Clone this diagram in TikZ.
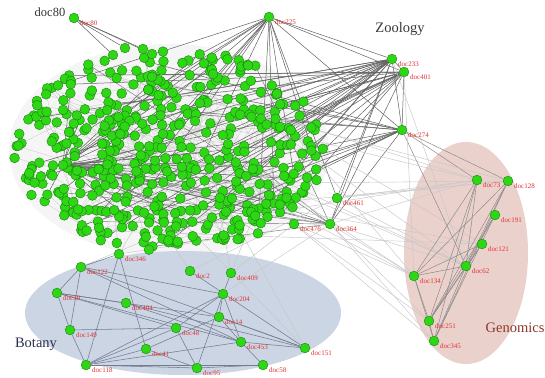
\documentclass[tikz,border=0pt]{standalone}
\usepackage{fontspec}
\setmainfont{Liberation Serif}
\pgfdeclarelayer{bg}
\pgfdeclarelayer{edges}
\pgfsetlayers{bg,edges,main}
\definecolor{gfill}{RGB}{45,215,20}
\definecolor{gline}{RGB}{30,125,20}
\definecolor{docred}{RGB}{225,50,50}
\definecolor{botfill}{RGB}{204,213,227}
\definecolor{genfill}{RGB}{235,209,204}
\definecolor{botname}{RGB}{40,50,80}
\definecolor{genname}{RGB}{140,55,45}
\definecolor{botedge}{RGB}{115,125,145}
\tikzset{
  gnode/.style={circle, fill=gfill, draw=gline, line width=0.4pt, inner sep=0pt, minimum size=9.8pt},
  doclab/.style={text=docred, font=\fontsize{7}{7}\selectfont, inner sep=0pt, anchor=west},
  grp/.style={font=\fontsize{14.5}{14.5}\selectfont, inner sep=0pt},
  zedge/.style={draw=black!62, line width=0.5pt},
  hedge/.style={draw=black!55, line width=0.45pt},
  cedge/.style={draw=black!22, line width=0.3pt},
  bedge/.style={draw=botedge, line width=0.55pt},
  gedge/.style={draw=black!45, line width=0.5pt},
  ledge/.style={draw=black!22, line width=0.45pt}
}
\newcommand{\dnode}[3]{\node[gnode] (#1) at (#2,#3) {}; \node[doclab] (#1-l) at (#2+6,#3+5.5) {#1};}
\begin{document}
\begin{tikzpicture}[x=1pt,y=-1pt]
\useasboundingbox (0,0) rectangle (545,377);
\begin{pgfonlayer}{bg}
  \fill[white] (0,0) rectangle (545,377);
  \fill[black!4] (169,150) ellipse [x radius=160, y radius=106];
  \fill[botfill] (183,313) ellipse [x radius=158, y radius=62];
  \fill[genfill] (466,253) ellipse [x radius=62, y radius=111];
\end{pgfonlayer}
% cluster nodes
\pgfmathsetseed{7}
\foreach \i in {1,...,470}{
  \pgfmathsetmacro\angg{360*rnd}
  \pgfmathsetmacro\rrr{sqrt(rnd)}
  \pgfmathsetmacro\cxx{170+156*\rrr*cos(\angg)}
  \pgfmathsetmacro\cyy{150+101*\rrr*sin(\angg)}
  \node[gnode] (g\i) at (\cxx,\cyy) {};
}
\node[gnode] (hub) at (63,165) {};
\node[gnode] (top1) at (125,48) {};
\node[gnode] (top2) at (143,49) {};
\node[gnode] (top3) at (113,55) {};
\node[gnode] (top4) at (152,54) {};
% named documents
\dnode{doc80}{74}{18}
\dnode{doc225}{269}{17}
\dnode{doc233}{392}{59}
\dnode{doc401}{404}{72}
\dnode{doc274}{402}{130}
\dnode{doc461}{337}{198}
\dnode{doc364}{330}{224}
\dnode{doc476}{294}{224}
\dnode{doc73}{477}{180}
\dnode{doc128}{508}{181}
\dnode{doc191}{495}{215}
\dnode{doc121}{482}{244}
\dnode{doc62}{466}{266}
\dnode{doc134}{414}{276}
\dnode{doc251}{429}{321}
\dnode{doc345}{434}{341}
\dnode{doc346}{119}{254}
\dnode{doc122}{81}{267}
\dnode{doc30}{57}{293}
\dnode{doc404}{126}{303}
\dnode{doc149}{70}{330}
\dnode{doc118}{86}{365}
\dnode{doc41}{146}{349}
\dnode{doc48}{176}{328}
\dnode{doc95}{197}{368}
\dnode{doc2}{190}{271}
\dnode{doc409}{231}{273}
\dnode{doc204}{223}{294}
\dnode{doc14}{219}{317}
\dnode{doc453}{241}{342}
\dnode{doc151}{305}{348}
\dnode{doc58}{263}{365}
% titles
\node[font=\fontsize{12.5}{12.5}\selectfont, text=black!80, inner sep=0pt] (doc80title) at (50,12) {doc80};
\node[grp, text=black!78] (zoolab) at (400,29) {Zoology};
\node[grp, text=botname] (botlab) at (36,344) {Botany};
\node[grp, text=genname] (genlab) at (515,328) {Genomics};
% edges
\begin{pgfonlayer}{edges}
  \pgfmathsetseed{31}
  \foreach \k in {1,...,150}{
    \pgfmathrandominteger{\ea}{1}{470}
    \pgfmathrandominteger{\eb}{1}{470}
    \draw[cedge] (g\ea) -- (g\eb);
  }
  \foreach \s/\n in {hub/32, doc233/18, doc401/16, doc274/12, doc225/14}{
    \foreach \k in {1,...,\n}{
      \pgfmathrandominteger{\ea}{1}{470}
      \draw[zedge] (\s) -- (g\ea);
    }
  }
  \foreach \t in {top1,top2,top3,top4} \draw[zedge] (doc80) -- (\t);
  \foreach \a/\b in {doc225/doc233, doc225/doc401, doc225/doc274, doc233/doc401, doc233/doc274,
      doc401/doc274, doc225/doc461, doc233/doc364, doc401/doc364, doc233/doc461, doc274/doc364}
    \draw[zedge] (\a) -- (\b);
  \foreach \k in {1,...,10}{
    \pgfmathrandominteger{\ea}{1}{470}
    \draw[hedge] (doc364) -- (g\ea);
  }
  % to genomics
  \foreach \a/\b in {doc274/doc73, doc274/doc128, doc274/doc62}
    \draw[gedge] (\a) -- (\b);
  \foreach \a/\b in {doc364/doc134, doc364/doc62, doc364/doc251, doc364/doc345, doc364/doc73,
      doc461/doc128, doc461/doc73, doc461/doc62, doc476/doc251, doc476/doc345, doc476/doc134,
      doc476/doc409, doc364/doc204, doc461/doc2, doc233/doc62, doc401/doc134}
    \draw[ledge] (\a) -- (\b);
  \foreach \t in {doc73,doc134,doc62,doc121,doc128}{
    \foreach \k in {1,2,3}{
      \pgfmathrandominteger{\ea}{1}{470}
      \draw[ledge] (g\ea) -- (\t);
    }
  }
  \foreach \a/\b in {doc73/doc134, doc73/doc251, doc73/doc62, doc73/doc345, doc128/doc62,
      doc128/doc251, doc128/doc345, doc128/doc134, doc191/doc251, doc191/doc345, doc191/doc62,
      doc121/doc62, doc121/doc134, doc62/doc134, doc62/doc251, doc62/doc345, doc134/doc251,
      doc134/doc345, doc251/doc345, doc121/doc251}
    \draw[gedge] (\a) -- (\b);
  % botany
  \foreach \t/\n in {doc346/3, doc409/2, doc151/2, doc122/1, doc2/1}{
    \foreach \k in {1,...,\n}{
      \pgfmathrandominteger{\ea}{1}{470}
      \draw[ledge] (g\ea) -- (\t);
    }
  }
  \foreach \a/\b in {doc346/doc118, doc346/doc122, doc122/doc30, doc122/doc149, doc122/doc453,
      doc122/doc151, doc30/doc149, doc30/doc404, doc30/doc453, doc30/doc14, doc149/doc118,
      doc118/doc41, doc118/doc95, doc118/doc48, doc118/doc204, doc118/doc453, doc118/doc58,
      doc41/doc95, doc41/doc14, doc48/doc204, doc48/doc95, doc204/doc14, doc204/doc453,
      doc204/doc95, doc14/doc453, doc14/doc151, doc453/doc151, doc453/doc58, doc95/doc58,
      doc404/doc453, doc404/doc151, doc346/doc41, doc30/doc48, doc149/doc48, doc122/doc204,
      doc409/doc204, doc2/doc151}
    \draw[bedge] (\a) -- (\b);
\end{pgfonlayer}
\end{tikzpicture}
\end{document}
